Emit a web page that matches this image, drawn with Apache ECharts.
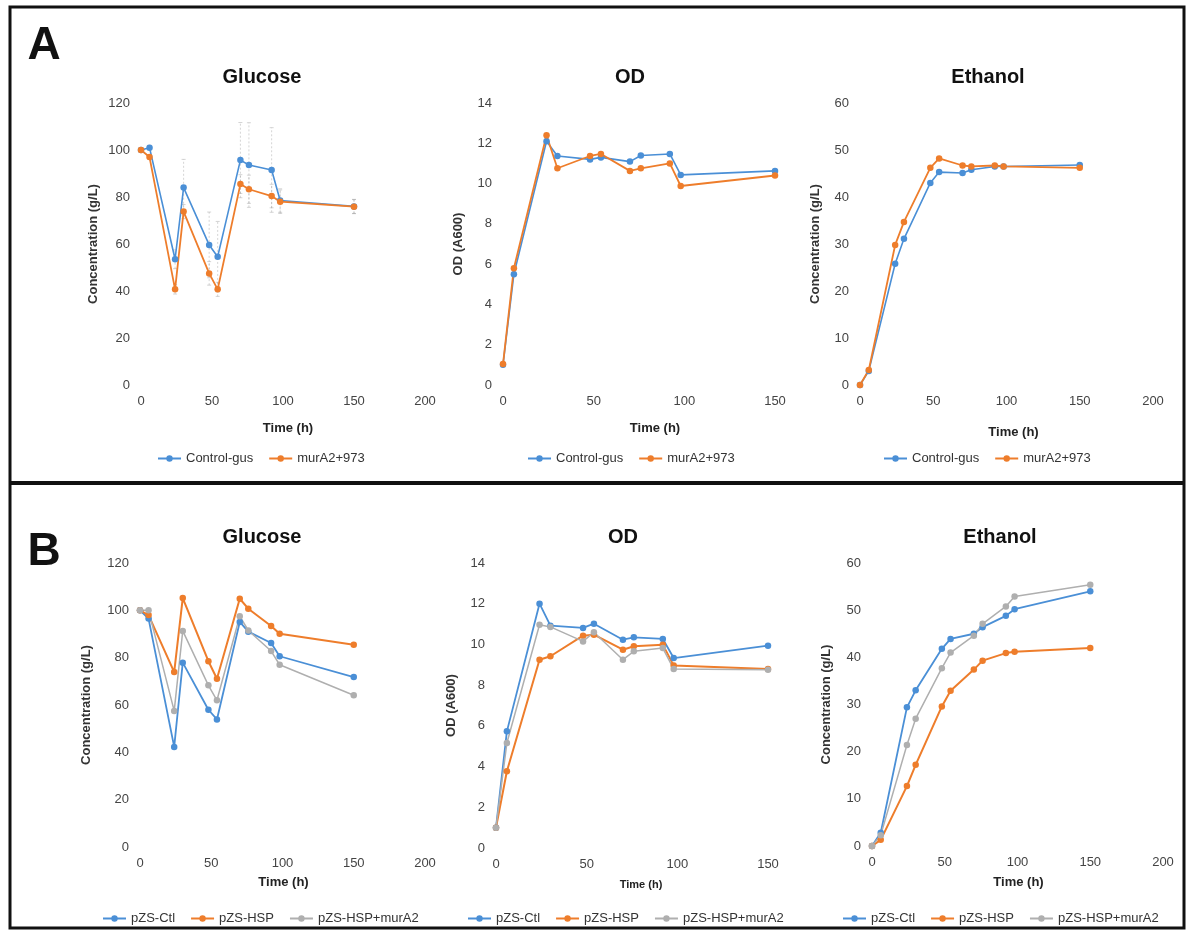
<!DOCTYPE html>
<html>
<head>
<meta charset="utf-8">
<script src="https://cdn.jsdelivr.net/npm/echarts@6/dist/echarts.min.js"></script>
<style>
html,body{margin:0;padding:0;background:#fff;}
#c{width:1189px;height:933px;}
</style>
</head>
<body>
<div id="c"></div>
<script>
// ---------- DATA ----------
const timeH = [0, 6, 24, 30, 48, 54, 70, 76, 92, 98, 150];

// Panel A
const namesA = ['Control-gus', 'murA2+973'];
const glucoseCtrlA = [100, 101, 53.5, 84, 59.6, 54.6, 95.7, 93.6, 91.5, 78.5, 76];
const glucoseMurA = [100, 97, 40.7, 73.8, 47.5, 40.7, 85.5, 83.3, 80.4, 78, 75.9];
const glucoseCtrlErrA = [0, 1, 4, 12, 14, 15, 16, 18, 18, 5, 3];
const glucoseMurErrA = [0, 1, 2, 3, 5, 3, 4, 6, 5, 5, 3];
const odCtrlA = [1.0, 5.5, 12.1, 11.37, 11.2, 11.3, 11.09, 11.39, 11.47, 10.43, 10.63];
const odMurA = [1.04, 5.8, 12.4, 10.76, 11.37, 11.47, 10.63, 10.76, 11.0, 9.88, 10.4];
const ethanolCtrlA = [0, 3.0, 25.8, 31.1, 43.0, 45.3, 45.1, 45.8, 46.5, 46.5, 46.8];
const ethanolMurA = [0, 3.2, 29.8, 34.7, 46.2, 48.2, 46.7, 46.5, 46.7, 46.5, 46.2];

// Panel B
const namesB = ['pZS-Ctl', 'pZS-HSP', 'pZS-HSP+murA2'];
const glucoseCtlB = [100, 96.5, 42.3, 77.9, 58, 53.9, 95.1, 91, 86.2, 80.6, 71.8];
const glucoseHspB = [100, 98, 73.9, 105.2, 78.5, 71.1, 104.9, 100.7, 93.4, 90.1, 85.5];
const glucoseHspMurB = [100, 100, 57.5, 91.3, 68.3, 62, 97.5, 91.5, 82.8, 77, 64.1];
const odCtlB = [1.0, 5.73, 12.0, 10.92, 10.81, 11.02, 10.23, 10.35, 10.27, 9.33, 9.94];
const odHspB = [1.0, 3.77, 9.25, 9.42, 10.43, 10.48, 9.74, 9.91, 9.99, 8.96, 8.79];
const odHspMurB = [1.0, 5.16, 10.97, 10.86, 10.15, 10.6, 9.25, 9.66, 9.82, 8.79, 8.76];
const ethanolCtlB = [0, 2.8, 29.4, 33.0, 41.8, 43.9, 45.0, 46.4, 48.8, 50.2, 54.0];
const ethanolHspB = [0, 1.3, 12.7, 17.2, 29.6, 32.9, 37.4, 39.3, 40.9, 41.2, 42.0];
const ethanolHspMurB = [0, 2.3, 21.4, 27.0, 37.7, 41.0, 44.6, 47.1, 50.8, 52.9, 55.4];

// ---------- STYLE ----------
const FONT = '"Liberation Sans", Arial, sans-serif';
const BLUE = '#4A8FD6', ORANGE = '#EE7D2B', GRAY = '#AFAFAF';

const grids = [
  {left: 141, top: 103, width: 284, height: 282},
  {left: 503, top: 103, width: 272, height: 282},
  {left: 860, top: 103, width: 293, height: 282},
  {left: 140, top: 563, width: 285, height: 284},
  {left: 496, top: 563, width: 272, height: 285},
  {left: 872, top: 563, width: 291, height: 283}
];

const xMax = [200, 150, 200, 200, 150, 200];
const xNameGap = [37, 37, 41, 29, 31, 30];
const xNameFont = [13, 13, 13, 13, 11, 13];
const xNamePad = [[0,0,0,10],[0,0,0,32],[0,0,0,14],[0,0,0,2],[0,0,0,18],[0,0,0,2]];
const yMax = [120, 14, 60, 120, 14, 60];
const yInt = [20, 2, 10, 20, 2, 10];
const yName = ['Concentration (g/L)', 'OD (A600)', 'Concentration (g/L)', 'Concentration (g/L)', 'OD (A600)', 'Concentration (g/L)'];
const yNameGap = [41, 38, 38, 47, 38, 39];

const xAxes = grids.map((g, i) => ({
  type: 'value', gridIndex: i, min: 0, max: xMax[i], interval: 50,
  axisLine: {show: false}, axisTick: {show: false}, splitLine: {show: false},
  axisLabel: {color: '#444', fontSize: 13, fontFamily: FONT, margin: 10},
  name: 'Time (h)', nameLocation: 'middle', nameGap: xNameGap[i],
  nameTextStyle: {color: '#222', fontSize: xNameFont[i], fontWeight: 'bold', fontFamily: FONT, padding: xNamePad[i]}
}));
const yAxes = grids.map((g, i) => ({
  type: 'value', gridIndex: i, min: 0, max: yMax[i], interval: yInt[i],
  axisLine: {show: false}, axisTick: {show: false}, splitLine: {show: false},
  axisLabel: {color: '#444', fontSize: 13, fontFamily: FONT, margin: 11},
  name: yName[i], nameLocation: 'middle', nameGap: yNameGap[i],
  nameTextStyle: {color: '#333', fontSize: 13, fontWeight: 'bold', fontFamily: FONT}
}));

function pts(vals) { return timeH.map((t, k) => [t, vals[k]]); }
function line(name, vals, gi, color, lw) {
  return {
    type: 'line', name: name, xAxisIndex: gi, yAxisIndex: gi, data: pts(vals),
    symbol: 'circle', symbolSize: 6.5, showSymbol: true,
    lineStyle: {color: color, width: lw}, itemStyle: {color: color},
    animation: false, z: 3
  };
}
function errBars(vals, errs, gi) {
  return {
    type: 'custom', xAxisIndex: gi, yAxisIndex: gi, silent: true, animation: false, z: 2,
    data: timeH.map((t, k) => [t, vals[k] - errs[k], vals[k] + errs[k]]),
    encode: {x: 0, y: [1, 2]},
    renderItem: function (params, api) {
      const lo = api.coord([api.value(0), api.value(1)]);
      const hi = api.coord([api.value(0), api.value(2)]);
      return {
        type: 'group', children: [
          {type: 'line', shape: {x1: lo[0], y1: lo[1], x2: hi[0], y2: hi[1]},
           style: {stroke: 'rgba(150,150,150,0.4)', lineWidth: 1, lineDash: [2, 2]}},
          {type: 'line', shape: {x1: hi[0] - 2, y1: hi[1], x2: hi[0] + 2, y2: hi[1]},
           style: {stroke: 'rgba(150,150,150,0.4)', lineWidth: 1}},
          {type: 'line', shape: {x1: lo[0] - 2, y1: lo[1], x2: lo[0] + 2, y2: lo[1]},
           style: {stroke: 'rgba(150,150,150,0.4)', lineWidth: 1}}
        ]
      };
    }
  };
}

const series = [
  errBars(glucoseCtrlA, glucoseCtrlErrA, 0),
  errBars(glucoseMurA, glucoseMurErrA, 0),
  line(namesA[0], glucoseCtrlA, 0, BLUE, 1.6),
  line(namesA[1], glucoseMurA, 0, ORANGE, 1.8),
  line(namesA[0], odCtrlA, 1, BLUE, 1.6),
  line(namesA[1], odMurA, 1, ORANGE, 1.8),
  line(namesA[0], ethanolCtrlA, 2, BLUE, 1.6),
  line(namesA[1], ethanolMurA, 2, ORANGE, 1.8),
  line(namesB[0], glucoseCtlB, 3, BLUE, 1.8),
  line(namesB[1], glucoseHspB, 3, ORANGE, 2),
  line(namesB[2], glucoseHspMurB, 3, GRAY, 1.5),
  line(namesB[0], odCtlB, 4, BLUE, 1.8),
  line(namesB[1], odHspB, 4, ORANGE, 2),
  line(namesB[2], odHspMurB, 4, GRAY, 1.5),
  line(namesB[0], ethanolCtlB, 5, BLUE, 1.8),
  line(namesB[1], ethanolHspB, 5, ORANGE, 2),
  line(namesB[2], ethanolHspMurB, 5, GRAY, 1.5)
];

const legendPos = [[152, 447], [522, 447], [878, 447], [97, 907], [462, 907], [837, 907]];
const legends = legendPos.map((p, i) => ({
  left: p[0], top: p[1], orient: 'horizontal',
  data: i < 3 ? namesA : namesB,
  itemWidth: 23, itemHeight: 8, itemGap: 15, selectedMode: false,
  textStyle: {color: '#333', fontSize: 13, fontFamily: FONT}
}));

const titles = [
  ['Glucose', 262, 77], ['OD', 630, 77], ['Ethanol', 988, 77],
  ['Glucose', 262, 537], ['OD', 623, 537], ['Ethanol', 1000, 537]
];
function txt(t, x, y, size) {
  return {
    type: 'text', x: x, y: y, silent: true,
    style: {text: t, font: 'bold ' + size + 'px ' + FONT, fill: '#111',
            align: 'center', verticalAlign: 'middle', textAlign: 'center', textVerticalAlign: 'middle'}
  };
}
const graphics = [
  {type: 'rect', shape: {x: 10, y: 7, width: 1174, height: 921}, silent: true,
   style: {fill: 'none', stroke: '#111', lineWidth: 3}},
  {type: 'line', shape: {x1: 10, y1: 483, x2: 1184, y2: 483}, silent: true,
   style: {stroke: '#111', lineWidth: 4}},
  txt('A', 44, 46, 46),
  txt('B', 44, 552, 46)
].concat(titles.map(t => txt(t[0], t[1], t[2], 20)));

const chart = echarts.init(document.getElementById('c'), null, {renderer: 'canvas'});
chart.setOption({
  backgroundColor: '#ffffff',
  animation: false,
  grid: grids,
  xAxis: xAxes,
  yAxis: yAxes,
  legend: legends,
  series: series,
  graphic: graphics
});
</script>
</body>
</html>
